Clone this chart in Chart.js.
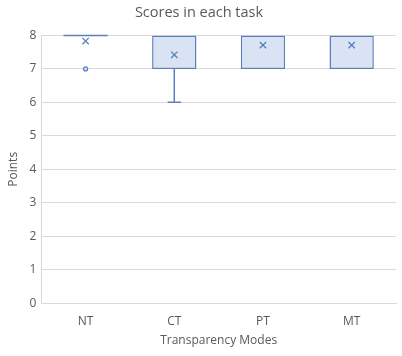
<!DOCTYPE html>
<html>
<head>
<meta charset="utf-8">
<script src="https://cdn.jsdelivr.net/npm/chart.js@4/dist/chart.umd.min.js"></script>
<style>
  html, body { margin: 0; padding: 0; background: #fff; }
  #wrap { width: 402px; height: 356px; }
</style>
</head>
<body>
<div id="wrap"><canvas id="boxChart"></canvas></div>
<script>
// datos del diagrama de caja
const modes = ['NT', 'CT', 'PT', 'MT'];
const q1Vals = [8, 7, 7, 7];
const q3Vals = [8, 8, 8, 8];
const medianVals = [8, 8, 8, 8];
const minVals = [8, 6, 7, 7];
const maxVals = [8, 8, 8, 8];
const meanVals = [7.83, 7.42, 7.71, 7.71];
const outlierVals = [7, null, null, null];
const yTicks = [0, 1, 2, 3, 4, 5, 6, 7, 8];

const lineBlue = '#5a7fbb';
const fillBlue = '#dae3f3';
const textGray = '#595959';

// bigotes y medianas dibujados con las escalas del grafico
const whiskerPlugin = {
    id: 'whiskers',
    afterDatasetsDraw(chart) {
        const ctx = chart.ctx;
        const x = chart.scales.x;
        const y = chart.scales.y;
        const meta = chart.getDatasetMeta(0);
        ctx.save();
        ctx.strokeStyle = lineBlue;
        ctx.lineWidth = 1.5;
        modes.forEach(function(m, i) {
            const cx = x.getPixelForValue(i);
            const half = meta.data[i].width / 2;
            // mediana (solo si no coincide con un borde de la caja)
            const flat = q1Vals[i] === q3Vals[i];
            if (flat || (medianVals[i] > q1Vals[i] && medianVals[i] < q3Vals[i])) {
                ctx.beginPath();
                ctx.moveTo(cx - half, y.getPixelForValue(medianVals[i]));
                ctx.lineTo(cx + half, y.getPixelForValue(medianVals[i]));
                ctx.stroke();
            }
            // bigote inferior
            if (minVals[i] < q1Vals[i]) {
                ctx.beginPath();
                ctx.moveTo(cx, y.getPixelForValue(q1Vals[i]));
                ctx.lineTo(cx, y.getPixelForValue(minVals[i]));
                ctx.moveTo(cx - half * 0.3, y.getPixelForValue(minVals[i]));
                ctx.lineTo(cx + half * 0.3, y.getPixelForValue(minVals[i]));
                ctx.stroke();
            }
            // bigote superior
            if (maxVals[i] > q3Vals[i]) {
                ctx.beginPath();
                ctx.moveTo(cx, y.getPixelForValue(q3Vals[i]));
                ctx.lineTo(cx, y.getPixelForValue(maxVals[i]));
                ctx.moveTo(cx - half * 0.3, y.getPixelForValue(maxVals[i]));
                ctx.lineTo(cx + half * 0.3, y.getPixelForValue(maxVals[i]));
                ctx.stroke();
            }
        });
        ctx.restore();
    }
};

Chart.defaults.font.family = '"Open Sans", Lato, sans-serif';
Chart.defaults.color = textGray;

const ctx = document.getElementById('boxChart').getContext('2d');
const boxChart = new Chart(ctx, {
    type: 'bar',
    data: {
        labels: modes,
        datasets: [{
            label: 'box',
            data: modes.map(function(m, i) { return [q1Vals[i], q3Vals[i]]; }),
            backgroundColor: fillBlue,
            borderColor: lineBlue,
            borderWidth: 1.5,
            borderSkipped: false,
            categoryPercentage: 1,
            barPercentage: 0.5,
            order: 2
        }, {
            type: 'line',
            label: 'mean',
            data: meanVals,
            showLine: false,
            pointStyle: 'crossRot',
            pointRadius: 4.5,
            pointBorderColor: lineBlue,
            pointBorderWidth: 1.3,
            order: 1
        }, {
            type: 'line',
            label: 'outliers',
            data: outlierVals,
            showLine: false,
            pointStyle: 'circle',
            pointRadius: 2,
            pointBackgroundColor: fillBlue,
            pointBorderColor: lineBlue,
            pointBorderWidth: 1.2,
            order: 1
        }]
    },
    options: {
        responsive: true,
        maintainAspectRatio: false,
        animation: false,
        layout: { padding: { left: 2, right: 6, top: 2, bottom: 4 } },
        plugins: {
            legend: { display: false },
            tooltip: { enabled: false },
            title: {
                display: true,
                text: 'Scores in each task',
                color: textGray,
                font: { size: 14.5, weight: 'normal' },
                padding: { top: 2, bottom: 14 }
            }
        },
        scales: {
            x: {
                grid: { display: false },
                border: { color: '#d9d9d9' },
                ticks: { font: { size: 12 }, color: textGray },
                title: { display: true, text: 'Transparency Modes', font: { size: 12 }, color: textGray, padding: { top: 2 } }
            },
            y: {
                min: 0,
                max: 8,
                afterBuildTicks: function(axis) {
                    axis.ticks = yTicks.map(function(v) { return { value: v }; });
                },
                grid: { color: '#d9d9d9', drawTicks: false },
                border: { display: true, color: '#d9d9d9' },
                ticks: { font: { size: 12 }, color: textGray, padding: 5 },
                title: { display: true, text: 'Points', font: { size: 12 }, color: textGray, padding: { bottom: 4 } }
            }
        }
    },
    plugins: [whiskerPlugin]
});
</script>
</body>
</html>
